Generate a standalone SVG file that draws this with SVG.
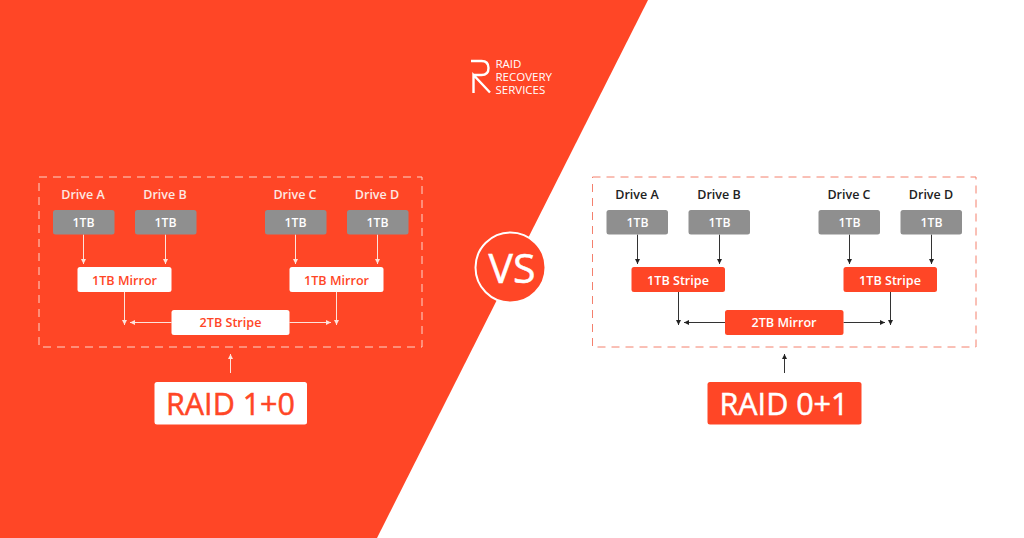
<svg xmlns="http://www.w3.org/2000/svg" width="1024" height="538" viewBox="0 0 1024 538">
<style>
text{font-family:"Open Sans","Liberation Sans",sans-serif;text-anchor:middle}
.lb{font-size:12.500px;font-weight:600}
.d{font-size:12.200px;font-weight:600;fill:#fff}
.n{font-size:12.600px;font-weight:600}
.t{font-size:30.500px;stroke-width:.5px}
.drv{fill:#8f8f8f}
.wl{stroke:#fde3dc;stroke-width:1;fill:none;marker-end:url(#aw)}
.kl{stroke:#333;stroke-width:1;fill:none;marker-end:url(#ak)}
.o{fill:#ff4626}
.w{fill:#fff}
</style>
<defs>
<marker id="aw" markerUnits="userSpaceOnUse" markerWidth="6" markerHeight="6" refX="5" refY="2.500" orient="auto"><path d="M0 0L5 2.500L0 5z" fill="#fde3dc"/></marker>
<marker id="ak" markerUnits="userSpaceOnUse" markerWidth="6" markerHeight="6" refX="5" refY="2.500" orient="auto"><path d="M0 0L5 2.500L0 5z" fill="#222"/></marker>
</defs>
<rect width="1024" height="538" fill="#fff"/>
<polygon points="0,0 648,0 377,538 0,538" fill="#ff4626"/>
<g id="logo">
<path d="M471 61H481.500Q488.500 61 488.500 68Q488.500 75 481.500 75H474M473.500 93V75L490 92.500" fill="none" stroke="#fff" stroke-width="2.400"/>
<text style="text-anchor:start;font-size:11.500px" fill="#fff"><tspan x="495.500" y="68">RAID</tspan><tspan x="495.500" y="81">RECOVERY</tspan><tspan x="495.500" y="93.500">SERVICES</tspan></text>
</g>
<g id="vs">
<circle cx="510.500" cy="267.500" r="35" fill="#ff4626" stroke="#fff" stroke-width="2"/>
<text x="512" y="282.500" font-size="41" fill="#fff" stroke="#fff" stroke-width=".5">VS</text>
</g>
<g id="connectors">
<g>
<path class="wl" d="M83.500 234.500V264"/><path class="wl" d="M165.500 234.500V264"/><path class="wl" d="M295.500 234.500V264"/><path class="wl" d="M377.500 234.500V264"/>
<path class="wl" d="M124.500 292V325"/><path class="wl" d="M336.500 292V325"/>
<path class="wl" d="M171.500 322.500H130"/><path class="wl" d="M289.500 322.500H331"/>
<path class="wl" d="M230.500 373V354"/>
</g>
<g>
<path class="kl" d="M637.500 234.500V264"/><path class="kl" d="M719.500 234.500V264"/><path class="kl" d="M849.500 234.500V264"/><path class="kl" d="M931.500 234.500V264"/>
<path class="kl" d="M678.500 292V325"/><path class="kl" d="M890.500 292V325"/>
<path class="kl" d="M725 322.500H684"/><path class="kl" d="M843.500 322.500H885"/>
<path class="kl" d="M784.500 373V354"/>
</g>
</g>
<g id="raid10">
<rect x="39" y="177" width="383" height="170" fill="none" stroke="#fdd5ca" stroke-width="1" stroke-dasharray="8 6"/>
<g id="l-drive-a"><text class="lb" x="83" y="199" fill="#fde8e2">Drive A</text><rect class="drv" x="53" y="210" width="61.500" height="24.500" rx="2.500"/><text class="d" x="83.500" y="226.500">1TB</text></g>
<g id="l-drive-b"><text class="lb" x="165" y="199" fill="#fde8e2">Drive B</text><rect class="drv" x="135" y="210" width="61.500" height="24.500" rx="2.500"/><text class="d" x="165.500" y="226.500">1TB</text></g>
<g id="l-drive-c"><text class="lb" x="295" y="199" fill="#fde8e2">Drive C</text><rect class="drv" x="265" y="210" width="61.500" height="24.500" rx="2.500"/><text class="d" x="295.500" y="226.500">1TB</text></g>
<g id="l-drive-d"><text class="lb" x="377" y="199" fill="#fde8e2">Drive D</text><rect class="drv" x="347" y="210" width="61.500" height="24.500" rx="2.500"/><text class="d" x="377.500" y="226.500">1TB</text></g>
<g id="l-mirror-1"><rect class="w" x="77.500" y="267" width="94" height="25" rx="2.500"/><text class="n o" x="124.500" y="285">1TB Mirror</text></g>
<g id="l-mirror-2"><rect class="w" x="289.500" y="267" width="94" height="25" rx="2.500"/><text class="n o" x="336.500" y="285">1TB Mirror</text></g>
<g id="l-stripe"><rect class="w" x="171.500" y="310" width="118" height="25" rx="2.500"/><text class="n o" x="230.500" y="327">2TB Stripe</text></g>
<g id="l-title"><rect class="w" x="154.500" y="382" width="152.500" height="42.500" rx="2.500"/><text class="t o" stroke="#ff4626" x="230.500" y="415">RAID 1+0</text></g>
</g>
<g id="raid01">
<rect x="592.500" y="177" width="383.500" height="170" fill="none" stroke="#f4806d" stroke-width="1" stroke-dasharray="8 6"/>
<g id="r-drive-a"><text class="lb" x="637" y="199" fill="#222">Drive A</text><rect class="drv" x="606.500" y="210" width="61.500" height="24.500" rx="2.500"/><text class="d" x="637.500" y="226.500">1TB</text></g>
<g id="r-drive-b"><text class="lb" x="719" y="199" fill="#222">Drive B</text><rect class="drv" x="688.500" y="210" width="61.500" height="24.500" rx="2.500"/><text class="d" x="719.500" y="226.500">1TB</text></g>
<g id="r-drive-c"><text class="lb" x="849" y="199" fill="#222">Drive C</text><rect class="drv" x="818.500" y="210" width="61.500" height="24.500" rx="2.500"/><text class="d" x="849.500" y="226.500">1TB</text></g>
<g id="r-drive-d"><text class="lb" x="931" y="199" fill="#222">Drive D</text><rect class="drv" x="900.500" y="210" width="61.500" height="24.500" rx="2.500"/><text class="d" x="931.500" y="226.500">1TB</text></g>
<g id="r-stripe-1"><rect class="o" x="631.500" y="267" width="93.500" height="25" rx="2.500"/><text class="n w" x="678" y="285">1TB Stripe</text></g>
<g id="r-stripe-2"><rect class="o" x="843.500" y="267" width="93.500" height="25" rx="2.500"/><text class="n w" x="890" y="285">1TB Stripe</text></g>
<g id="r-mirror"><rect class="o" x="725" y="310" width="118.500" height="25" rx="2.500"/><text class="n w" x="784" y="327">2TB Mirror</text></g>
<g id="r-title"><rect class="o" x="707.500" y="382" width="154" height="42.500" rx="2.500"/><text class="t w" stroke="#fff" x="784" y="415">RAID 0+1</text></g>
</g>
</svg>
